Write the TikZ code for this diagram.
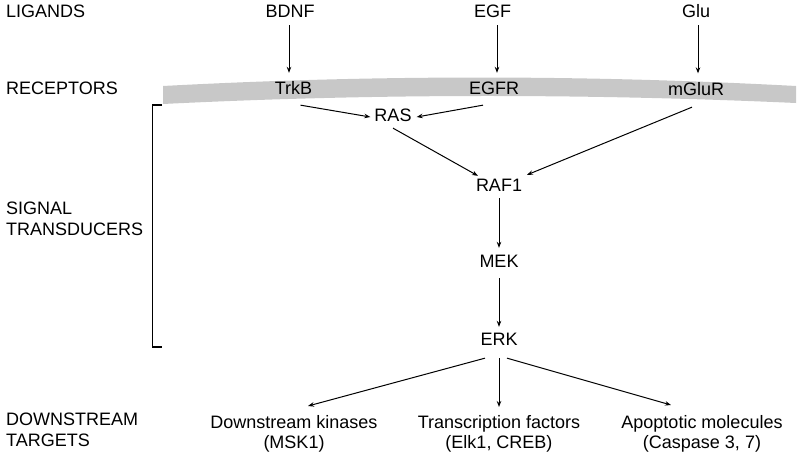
\documentclass[tikz,border=0pt]{standalone}
\usepackage{fontspec}
\setmainfont{Liberation Sans}
\usetikzlibrary{arrows.meta}
\definecolor{membrane}{RGB}{200,200,200}
\begin{document}
\begin{tikzpicture}[x=1pt,y=-1pt,
  lbl/.style={inner sep=0pt,font=\fontsize{18}{20.3}\selectfont},
  mol/.style={lbl,text height=12.9pt,text depth=0pt},
  arr/.style={line width=1pt,-{Stealth[length=6pt,width=4.5pt]}},
  cat/.style={lbl,anchor=north west,align=left},
  tgt/.style={lbl,anchor=north,align=center}]
\useasboundingbox (0,0) rectangle (800,455);
% membrane
\fill[membrane] (163,86) .. controls (374,74.7) and (585,74.7) .. (796,86)
  -- (796,103) .. controls (585,93.5) and (374,93.5) .. (163,104) -- cycle;
% category labels
\node[cat] (lig) at (6,5) {LIGANDS};
\node[cat] (rec) at (6,82) {RECEPTORS};
\node[cat] (sig) at (6,202) {SIGNAL\\TRANSDUCERS};
\node[cat] (dst) at (6,413) {DOWNSTREAM\\TARGETS};
% molecules
\node[mol] (bdnf) at (290,11.5) {BDNF};
\node[mol] (egf) at (492.5,11.5) {EGF};
\node[mol] (glu) at (696,11.5) {Glu};
\node[mol] (trkb) at (293.5,88) {TrkB};
\node[mol] (egfr) at (494,88) {EGFR};
\node[mol] (mglur) at (696,89) {mGluR};
\node[mol] (ras) at (393,115) {RAS};
\node[mol] (raf) at (499,185.5) {RAF1};
\node[mol] (mek) at (499,261.5) {MEK};
\node[mol] (erk) at (499,339) {ERK};
\node[tgt] (dk) at (294,415) {Downstream kinases\\(MSK1)};
\node[tgt] (tf) at (499,415) {Transcription factors\\(Elk1, CREB)};
\node[tgt] (am) at (702,415) {Apoptotic molecules\\(Caspase 3, 7)};
% ligand -> receptor
\draw[arr,shorten <=7pt,shorten >=8.5pt] ([xshift=-1pt]bdnf.south) -- ([xshift=-1pt]bdnf.south |- trkb.north);
\draw[arr,shorten <=7pt,shorten >=8.5pt] ([xshift=4.5pt]egf.south) -- ([xshift=4.5pt]egf.south |- egfr.north);
\draw[arr,shorten <=7pt,shorten >=9pt] ([xshift=2pt]glu.south) -- ([xshift=2pt]glu.south |- mglur.north);
% receptors -> transducers
\draw[arr] ([shift={(7,10.5)}]trkb.south) -- ([shift={(-4,2)}]ras.west);
\draw[arr] ([shift={(-11,10.5)}]egfr.south) -- ([shift={(5,2)}]ras.east);
\draw[arr] ([shift={(0,6.5)}]ras.south) -- ([shift={(-21,-3)}]raf.north);
\draw[arr] ([shift={(-4,11.5)}]mglur.south) -- ([shift={(28,-4)}]raf.north);
\draw[arr,shorten <=6pt,shorten >=7pt] (raf.south) -- (mek.north);
\draw[arr,shorten <=10pt,shorten >=5.5pt] (mek.south) -- (erk.north);
% targets
\draw[arr] ([shift={(-14,12.5)}]erk.south) -- ([shift={(14,-9)}]dk.north);
\draw[arr,shorten <=12.5pt,shorten >=8pt] (erk.south) -- (tf.north);
\draw[arr] ([shift={(8,12.5)}]erk.south) -- ([shift={(-31,-10)}]am.north);
% bracket
\draw[line width=1.2pt] (162,105) -- (152.7,105) -- (152.7,347) -- (162,347);
\end{tikzpicture}
\end{document}
